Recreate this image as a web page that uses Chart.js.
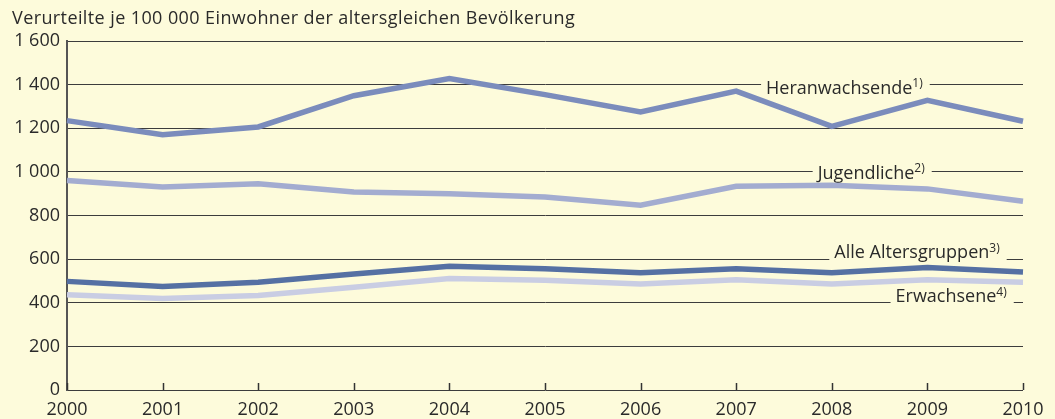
<!DOCTYPE html>
<html>
<head>
<meta charset="utf-8">
<script src="https://cdn.jsdelivr.net/npm/chart.js@4/dist/chart.umd.min.js"></script>
<style>
  html, body { margin: 0; padding: 0; background: #fdfbdb; }
  #wrap { width: 1055px; height: 419px; position: relative; }
</style>
</head>
<body>
<div id="wrap"><canvas id="chart"></canvas></div>
<script>
// data
const years = ['2000', '2001', '2002', '2003', '2004', '2005', '2006', '2007', '2008', '2009', '2010'];
const heranwachsende = [1235, 1170, 1206, 1349, 1428, 1354, 1275, 1370, 1209, 1328, 1232];
const jugendliche = [961, 931, 946, 908, 900, 885, 847, 934, 939, 922, 865];
const alleAltersgruppen = [498, 475, 494, 532, 567, 556, 537, 556, 537, 562, 541];
const erwachsene = [437, 420, 433, 471, 511, 503, 486, 506, 486, 506, 494];
const yTicks = [0, 200, 400, 600, 800, 1000, 1200, 1400, 1600];

const titleText = 'Verurteilte je 100 000 Einwohner der altersgleichen Bevölkerung';
const FONT = '"Open Sans", sans-serif';
const BG = '#fdfbdb';
const INK = '#2a2a2a';

// series labels sitting on grid lines
const lineLabels = [
  { text: 'Heranwachsende', sup: '1)', value: 1400, xEnd: 8.951, dy: 9 },
  { text: 'Jugendliche', sup: '2)', value: 1000, xEnd: 8.972, dy: 7 },
  { text: 'Alle Altersgruppen', sup: '3)', value: 600, xEnd: 9.756, dy: -1 },
  { text: 'Erwachsene', sup: '4)', value: 400, xEnd: 9.83, dy: -0.5 }
];

const fmt = v => v >= 1000 ? Math.floor(v / 1000) + ' ' + String(v % 1000).padStart(3, '0') : String(v);

const decor = {
  id: 'decor',
  beforeDraw(chart) {
    const ctx = chart.ctx;
    ctx.save();
    ctx.fillStyle = BG;
    ctx.fillRect(0, 0, chart.width, chart.height);
    ctx.fillStyle = INK;
    ctx.font = '18px ' + FONT;
    ctx.letterSpacing = '0.4px';
    ctx.textBaseline = 'alphabetic';
    ctx.textAlign = 'left';
    ctx.fillText(titleText, 12, 24);
    ctx.letterSpacing = '0px';
    ctx.restore();
  },
  beforeDatasetsDraw(chart) {
    const ctx = chart.ctx;
    const xs = chart.scales.x, ys = chart.scales.y;
    const step = xs.getPixelForValue(1) - xs.getPixelForValue(0);
    ctx.save();
    lineLabels.forEach(l => {
      const y = ys.getPixelForValue(l.value);
      ctx.font = '18px ' + FONT;
      const w1 = ctx.measureText(l.text).width;
      ctx.font = '12px ' + FONT;
      const w2 = ctx.measureText(l.sup).width;
      const right = xs.getPixelForValue(0) + l.xEnd * step;
      const left = right - w1 - w2;
      ctx.fillStyle = BG;
      ctx.fillRect(left - 5, y - 2, w1 + w2 + 12, 4);
      ctx.fillStyle = INK;
      ctx.textBaseline = 'alphabetic';
      ctx.textAlign = 'left';
      ctx.font = '18px ' + FONT;
      ctx.fillText(l.text, left, y + l.dy);
      ctx.font = '12px ' + FONT;
      ctx.fillText(l.sup, left + w1, y + l.dy - 6.5);
    });
    ctx.restore();
  },
  afterDraw(chart) {
    const ctx = chart.ctx;
    const xs = chart.scales.x;
    const bottom = chart.chartArea.bottom;
    ctx.save();
    ctx.strokeStyle = '#333';
    ctx.lineWidth = 1.5;
    years.forEach((yr, i) => {
      const x = Math.round(xs.getPixelForValue(i)) + 0.5;
      ctx.beginPath();
      ctx.moveTo(x, bottom);
      ctx.lineTo(x, bottom - 7);
      ctx.stroke();
    });
    ctx.restore();
  }
};

const ds = (label, data, color) => ({
  label: label,
  data: data,
  borderColor: color,
  backgroundColor: color,
  borderWidth: 5.5,
  pointRadius: 0,
  tension: 0,
  borderJoinStyle: 'miter',
  borderCapStyle: 'butt'
});

new Chart(document.getElementById('chart'), {
  type: 'line',
  data: {
    labels: years,
    datasets: [
      ds('Erwachsene', erwachsene, '#c9cde3'),
      ds('Alle Altersgruppen', alleAltersgruppen, '#5570a3'),
      ds('Jugendliche', jugendliche, '#a3acd0'),
      ds('Heranwachsende', heranwachsende, '#7b8cbc')
    ]
  },
  options: {
    responsive: true,
    maintainAspectRatio: false,
    animation: false,
    devicePixelRatio: 1,
    layout: { padding: { left: 0, right: 32, top: 41, bottom: 0 } },
    plugins: {
      legend: { display: false },
      title: { display: false },
      tooltip: { enabled: false }
    },
    scales: {
      x: {
        offset: false,
        grid: { display: false, drawTicks: false },
        border: { display: false },
        ticks: {
          color: INK,
          font: { family: FONT, size: 18 },
          padding: 9,
          maxRotation: 0,
          autoSkip: false
        },
        afterFit(scale) { scale.height = 29; }
      },
      y: {
        min: 0,
        max: 1600,
        afterBuildTicks(scale) { scale.ticks = yTicks.map(v => ({ value: v })); },
        grid: { color: '#3c3c3c', lineWidth: 1, drawTicks: false, tickLength: 0 },
        border: { display: true, color: '#555', width: 2 },
        ticks: {
          color: INK,
          font: { family: FONT, size: 18 },
          padding: 7,
          callback: v => fmt(v)
        },
        afterFit(scale) { scale.width = 67; }
      }
    }
  },
  plugins: [decor]
});
</script>
</body>
</html>
